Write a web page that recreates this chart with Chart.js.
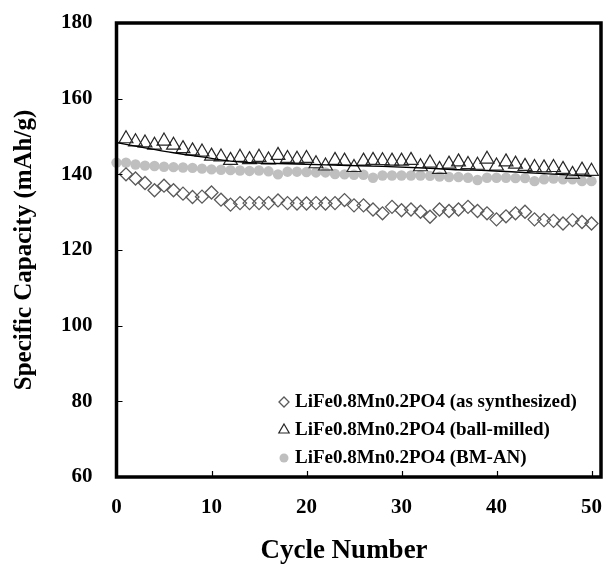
<!DOCTYPE html>
<html>
<head>
<meta charset="utf-8">
<script src="https://cdn.jsdelivr.net/npm/chart.js@4.4.1/dist/chart.umd.min.js"></script>
<style>
  html, body { margin: 0; padding: 0; background: #ffffff; }
  #wrap { width: 603px; height: 565px; position: relative; }
</style>
</head>
<body>
<div id="wrap"><canvas id="c" width="603" height="565"></canvas></div>
<script>
// ---- data ----
const cyclesAll = [0,1,2,3,4,5,6,7,8,9,10,11,12,13,14,15,16,17,18,19,20,21,22,23,24,25,26,27,28,29,30,31,32,33,34,35,36,37,38,39,40,41,42,43,44,45,46,47,48,49,50];
const cycles = [1,2,3,4,5,6,7,8,9,10,11,12,13,14,15,16,17,18,19,20,21,22,23,24,25,26,27,28,29,30,31,32,33,34,35,36,37,38,39,40,41,42,43,44,45,46,47,48,49,50];

const asSynthesized = [
  140.0,138.9,137.7,135.8,137.0,135.8,134.9,134.0,134.1,135.2,
  133.3,132.0,132.4,132.4,132.4,132.4,133.1,132.4,132.3,132.3,
  132.4,132.3,132.4,133.2,131.8,131.8,130.7,129.7,131.4,130.5,
  130.7,130.1,128.8,130.7,130.3,130.7,131.4,130.3,129.7,128.1,
  128.9,129.7,130.1,128.1,127.9,127.7,127.0,127.9,127.4,127.0
];
const ballMilled = [
  149.4,148.6,148.3,147.7,148.8,147.7,146.8,146.2,145.9,144.8,
  144.6,143.7,144.5,143.9,144.5,143.8,145.0,144.2,144.0,144.2,
  142.8,142.2,143.7,143.5,141.8,143.5,143.7,143.6,143.5,143.5,
  143.7,142.0,143.0,141.3,142.7,143.3,142.6,142.4,144.0,142.2,
  143.3,142.7,142.1,141.8,141.7,141.8,141.3,140.0,141.1,140.8
];
const bmAn = [
  143.1,143.1,142.6,142.3,142.2,142.0,141.9,141.8,141.7,141.5,
  141.3,141.2,141.1,141.0,140.9,141.0,140.8,140.0,140.7,140.7,
  140.6,140.5,140.5,140.1,140.0,139.9,139.9,139.1,139.7,139.7,
  139.7,139.7,139.7,139.6,139.4,139.3,139.3,139.1,138.5,139.1,
  139.1,139.1,139.0,139.0,138.2,138.7,138.9,138.7,138.7,138.2,138.2
];
// trend line through the ball-milled points
const trendCycles = [0,3,6,9,12,15,18,22,28,33,36,39,42,45,48,50];
const trendValues = [148.4,147.0,145.7,144.6,143.5,143.0,142.8,142.5,142.1,141.6,141.2,141.0,140.6,140.2,139.8,139.5];

const seriesLabels = [
  'LiFe0.8Mn0.2PO4 (as synthesized)',
  'LiFe0.8Mn0.2PO4 (ball-milled)',
  'LiFe0.8Mn0.2PO4 (BM-AN)'
];
const xTicks = [0,10,20,30,40,50];
const yTicks = [60,80,100,120,140,160,180];
const xTitle = 'Cycle Number';
const yTitle = 'Specific Capacity (mAh/g)';

const FONT = "'Liberation Serif', 'Times New Roman', serif";

function pts(xs, ys) { return xs.map((x, i) => ({ x: x, y: ys[i] })); }

const framePlugin = {
  id: 'frame',
  afterDatasetsDraw(chart) {
    const { ctx, chartArea: a, scales } = chart;
    ctx.save();
    ctx.strokeStyle = '#000';
    ctx.lineWidth = 1.2;
    ctx.beginPath();
    xTicks.forEach(v => {
      if (v === 0) return;
      const px = Math.round(scales.x.getPixelForValue(v)) + 0.5;
      ctx.moveTo(px, a.bottom);
      ctx.lineTo(px, a.bottom - 6);
    });
    yTicks.forEach(v => {
      if (v === 60 || v === 180) return;
      const py = Math.round(scales.y.getPixelForValue(v)) + 0.5;
      ctx.moveTo(a.left, py);
      ctx.lineTo(a.left + 6, py);
    });
    ctx.stroke();
    ctx.lineWidth = 3.5;
    ctx.strokeRect(a.left, a.top, a.right - a.left, a.bottom - a.top);
    ctx.restore();
  }
};

const textPlugin = {
  id: 'texts',
  afterDraw(chart) {
    const { ctx } = chart;
    ctx.save();
    // x axis title (placed as in the reference, slightly left of centre)
    ctx.font = 'bold 27px ' + FONT;
    ctx.fillStyle = '#000';
    ctx.textAlign = 'center';
    ctx.textBaseline = 'middle';
    ctx.fillText(xTitle, 344, 551);
    // legend inside the plot
    const rows = [402, 430, 458];
    const markerX = 284, textX = 295;
    ctx.font = 'bold 19px ' + FONT;
    ctx.textAlign = 'left';
    [0, 1, 2].forEach(i => {
      const ds = chart.data.datasets[i];
      const y = rows[i];
      ctx.save();
      ctx.strokeStyle = ds.borderColor;
      ctx.fillStyle = ds.backgroundColor;
      ctx.lineWidth = ds.borderWidth || 0;
      Chart.helpers.drawPoint(ctx, {
        pointStyle: ds.pointStyle,
        radius: ds.legendRadius,
        rotation: 0,
        borderWidth: ds.borderWidth || 0
      }, markerX, y);
      ctx.restore();
      ctx.fillStyle = '#000';
      ctx.fillText(ds.label, textX, y);
    });
    ctx.restore();
  }
};

new Chart(document.getElementById('c'), {
  type: 'scatter',
  data: {
    datasets: [
      {
        label: seriesLabels[0],
        data: pts(cycles, asSynthesized),
        pointStyle: 'rectRot',
        pointRadius: 6.5,
        legendRadius: 5,
        borderColor: '#5a5a5a',
        backgroundColor: 'rgba(255,255,255,0)',
        borderWidth: 1.3,
        order: 3,
        clip: false
      },
      {
        label: seriesLabels[1],
        data: pts(cycles, ballMilled),
        pointStyle: 'triangle',
        pointRadius: 8,
        legendRadius: 6,
        borderColor: '#262626',
        backgroundColor: 'rgba(255,255,255,0)',
        borderWidth: 1.2,
        order: 2,
        clip: false
      },
      {
        label: seriesLabels[2],
        data: pts(cyclesAll, bmAn),
        pointStyle: 'circle',
        pointRadius: 5.2,
        legendRadius: 4.5,
        borderColor: '#bfbfbf',
        backgroundColor: '#bfbfbf',
        borderWidth: 0,
        order: 4,
        clip: false
      },
      {
        label: 'trend',
        data: pts(trendCycles, trendValues),
        showLine: true,
        pointRadius: 0,
        borderColor: '#000',
        borderWidth: 1.4,
        cubicInterpolationMode: 'monotone',
        order: 1
      }
    ]
  },
  options: {
    responsive: false,
    animation: false,
    layout: { autoPadding: false, padding: { top: 23, right: 2, left: 0, bottom: 0 } },
    plugins: { legend: { display: false }, tooltip: { enabled: false } },
    scales: {
      x: {
        type: 'linear',
        min: 0, max: 51,
        afterFit(s) { s.height = 88; s.paddingLeft = 0; s.paddingRight = 0; },
        afterBuildTicks(s) { s.ticks = xTicks.map(v => ({ value: v })); },
        grid: { display: false, drawTicks: false },
        border: { display: false },
        ticks: {
          includeBounds: false,
          padding: 20,
          color: '#000',
          font: { family: FONT, size: 21, weight: 'bold', lineHeight: 1 }
        },
        title: { display: false }
      },
      y: {
        type: 'linear',
        min: 60, max: 180,
        afterFit(s) { s.width = 116.5; s.paddingTop = 0; s.paddingBottom = 0; },
        afterBuildTicks(s) { s.ticks = yTicks.map(v => ({ value: v })); },
        grid: { display: false, drawTicks: false },
        border: { display: false },
        ticks: {
          padding: 24,
          color: '#000',
          font: { family: FONT, size: 21, weight: 'bold', lineHeight: 1 }
        },
        title: {
          display: true, text: yTitle, color: '#000',
          font: { family: FONT, size: 25, weight: 'bold', lineHeight: 1 },
          padding: { top: 12, bottom: 0 }
        }
      }
    }
  },
  plugins: [framePlugin, textPlugin]
});
</script>
</body>
</html>
